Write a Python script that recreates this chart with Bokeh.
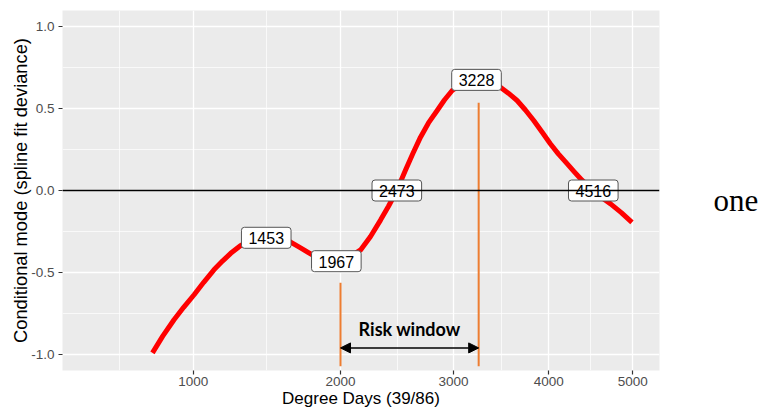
import numpy as np
from bokeh.plotting import figure
from bokeh.layouts import row
from bokeh.models import (Range1d, FixedTicker, CustomJSTickFormatter, PrintfTickFormatter,
                          Span, Arrow, NormalHead, Label, ColumnDataSource)
from bokeh.core.properties import value
from bokeh.embed import file_html
from bokeh.resources import INLINE

# ---- data ----
degree_days = [784, 836, 895, 947, 1005, 1060, 1120, 1173, 1222, 1285, 1349, 1415, 1453,
               1497, 1559, 1623, 1695, 1782, 1860, 1967, 2065, 2163, 2246, 2331, 2400,
               2473, 2550, 2618, 2687, 2761, 2843, 2912, 2987, 3068, 3147, 3228, 3308,
               3391, 3474, 3558, 3651, 3741, 3832, 3924, 4017, 4108, 4208, 4292, 4382,
               4516, 4612, 4721, 4857, 4990]
cond_mode = [-0.992, -0.890, -0.790, -0.714, -0.637, -0.561, -0.485, -0.430, -0.384,
             -0.336, -0.306, -0.292, -0.289, -0.292, -0.301, -0.315, -0.351, -0.394,
             -0.420, -0.432, -0.412, -0.363, -0.281, -0.181, -0.096, 0.0, 0.124, 0.227,
             0.326, 0.413, 0.489, 0.553, 0.611, 0.647, 0.668, 0.676, 0.672, 0.656,
             0.631, 0.595, 0.550, 0.492, 0.428, 0.358, 0.286, 0.224, 0.164, 0.114,
             0.063, 0.0, -0.041, -0.080, -0.135, -0.195]
label_days = [1453, 1967, 2473, 3228, 4516]
label_mode = [-0.289, -0.432, 0.0, 0.676, 0.0]
risk_start = 2000
risk_end = 3250
x_ticks = [1000, 2000, 3000, 4000, 5000]
y_ticks = [-1.0, -0.5, 0.0, 0.5, 1.0]
x_limits = [400, 5342]
y_limits = [-1.1, 1.1]

# sqrt-transformed x scale (as in ggplot scale_x_sqrt)
tx = lambda v: np.sqrt(np.asarray(v, dtype=float))

p = figure(width=712, height=410, output_backend="svg", toolbar_location=None,
           x_range=Range1d(*tx(x_limits)), y_range=Range1d(*y_limits),
           min_border_left=62, min_border_right=53, min_border_top=10, min_border_bottom=39)
p.outline_line_color = None
p.background_fill_color = "#EBEBEB"
p.border_fill_color = "white"

xt = tx(x_ticks)
x_minor = list((xt[:-1] + xt[1:]) / 2) + [xt[0] - (xt[1] - xt[0]) / 2]
p.xaxis.ticker = FixedTicker(ticks=list(xt), minor_ticks=x_minor)
p.xgrid.ticker = FixedTicker(ticks=list(xt), minor_ticks=x_minor)
yt = np.array(y_ticks)
y_minor = list((yt[:-1] + yt[1:]) / 2)
p.yaxis.ticker = FixedTicker(ticks=list(yt), minor_ticks=y_minor)
p.ygrid.ticker = FixedTicker(ticks=list(yt), minor_ticks=y_minor)
p.xaxis.formatter = CustomJSTickFormatter(code="return String(Math.round(tick*tick));")
p.yaxis.formatter = PrintfTickFormatter(format="%.1f")

for g in (p.xgrid, p.ygrid):
    g.grid_line_color = "white"
    g.grid_line_width = 1.3
    g.minor_grid_line_color = "white"
    g.minor_grid_line_width = 0.7

for ax in (p.xaxis, p.yaxis):
    ax.axis_line_color = None
    ax.major_tick_line_color = "#333333"
    ax.major_tick_line_width = 1.2
    ax.major_tick_out = 4
    ax.major_tick_in = 0
    ax.minor_tick_line_color = None
    ax.major_label_text_color = "#4D4D4D"
    ax.major_label_text_font = "Liberation Sans"
    ax.major_label_text_font_size = "13.5px"
    ax.axis_label_text_font = "Liberation Sans"
    ax.axis_label_text_font_style = "normal"
    ax.axis_label_text_color = "black"

p.xaxis.axis_label = "Degree Days (39/86)"
p.xaxis.axis_label_text_font_size = "17px"
p.xaxis.major_label_standoff = 2
p.xaxis.axis_label_standoff = 0
p.yaxis.axis_label = "Conditional mode (spline fit deviance)"
p.yaxis.axis_label_text_font_size = "18.3px"
p.yaxis.major_label_standoff = 4
p.yaxis.axis_label_standoff = -3

p.add_layout(Span(location=0, dimension="width", line_color="black", line_width=1.4))

src = ColumnDataSource(dict(x=tx(degree_days), y=cond_mode))
p.line("x", "y", source=src, line_color="#FF0000", line_width=5, line_join="round")

# orange markers of the risk window
p.segment(x0=tx([risk_start, risk_end]), x1=tx([risk_start, risk_end]),
          y0=[-0.563, 0.536], y1=[-1.074, -1.074], line_color="#ED7D31", line_width=2)

lsrc = ColumnDataSource(dict(x=tx(label_days), y=label_mode,
                             t=[str(d) for d in label_days]))
p.text("x", "y", text="t", source=lsrc, text_font=value("Liberation Sans"),
       text_font_size="16px", text_color="black", text_align="center",
       text_baseline="middle", background_fill_color="white",
       border_line_color="#555555", border_line_width=1,
       padding=dict(left=7, right=7, top=5, bottom=4), border_radius=3)

p.add_layout(Arrow(start=NormalHead(size=10, fill_color="black", line_color="black"),
                   end=NormalHead(size=10, fill_color="black", line_color="black"),
                   x_start=float(tx(risk_start)), x_end=float(tx(risk_end)),
                   y_start=-0.962, y_end=-0.962, line_color="black", line_width=1.5))
p.add_layout(Label(x=float((tx(risk_start) + tx(risk_end)) / 2), y=-0.846,
                   text="Risk window", text_font="Lato", text_font_style="bold",
                   text_font_size="18px", text_align="center", text_baseline="middle",
                   text_color="black"))

# stray word from the surrounding document, at the right of the chart
side = figure(width=48, height=410, output_backend="svg", toolbar_location=None,
              x_range=Range1d(0, 48), y_range=Range1d(0, 410),
              x_axis_location=None, y_axis_location=None,
              min_border_left=0, min_border_right=0, min_border_top=0, min_border_bottom=0)
side.outline_line_color = None
side.xgrid.visible = False
side.ygrid.visible = False
side.background_fill_color = "white"
side.border_fill_color = "white"
side.add_layout(Label(x=1, y=194, text="one", text_font="Liberation Serif",
                      text_font_size="31px", text_align="left",
                      text_baseline="alphabetic", text_color="black"))

open("out.html", "w").write(file_html(row(p, side), INLINE))
